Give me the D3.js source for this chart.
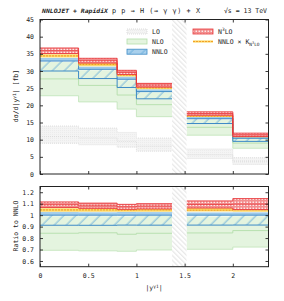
<!DOCTYPE html>
<html>
<head>
<meta charset="utf-8">
<script src="https://cdn.jsdelivr.net/npm/d3@7"></script>
<style>
  body { margin: 0; background: #fff; }
  svg text { font-family: "DejaVu Sans Mono", monospace; fill: #222; }
</style>
</head>
<body>
<svg id="chart" width="284" height="301"></svg>
<script>
// ---- data -----------------------------------------------------------------
const binLo = [0, 0.4, 0.8, 1.0, 1.52, 2.0];
const binHi = [0.4, 0.8, 1.0, 1.37, 2.0, 2.37];
const gapRange = [1.37, 1.52];

const loC  = [10.9, 10.5, 9.5, 8.1, 5.6, 3.7];
const loLo = [8.9, 8.5, 7.8, 6.6, 4.5, 2.8];
const loHi = [14.0, 13.4, 12.1, 10.5, 7.3, 4.8];

const nloC  = [27.7, 25.8, 23.0, 20.2, 13.6, 9.0];
const nloLo = [22.8, 21.0, 18.9, 16.7, 11.3, 7.5];
const nloHi = [32.6, 30.2, 27.3, 23.8, 15.9, 10.3];

const nnloC  = [32.9, 30.5, 27.6, 24.0, 16.1, 10.4];
const nnloLo = [30.0, 27.8, 25.2, 21.9, 14.7, 9.5];
const nnloHi = [33.6, 31.1, 28.2, 24.5, 16.4, 10.6];

const n3loC  = [35.9, 33.0, 29.6, 25.9, 17.6, 11.4];
const n3loLo = [35.1, 32.3, 29.0, 25.3, 17.1, 10.9];
const n3loHi = [36.7, 33.7, 30.2, 26.4, 18.1, 11.9];

const kC  = [34.4, 31.9, 28.8, 25.1, 16.8, 10.9];
const kLo = [33.9, 31.4, 28.4, 24.7, 16.6, 10.7];
const kHi = [34.9, 32.3, 29.3, 25.4, 17.1, 11.0];

const xTicks = [0, 0.5, 1, 1.5, 2];
const yTicksTop = [0, 5, 10, 15, 20, 25, 30, 35, 40, 45];
const yTicksBot = [0.6, 0.7, 0.8, 0.9, 1.0, 1.1, 1.2];

// ---- layout ----------------------------------------------------------------
const L = 40, R = 268.5;
const TOP = { y0: 174, y1: 19.5 };
const BOT = { y0: 266.7, y1: 186.5 };

const svg = d3.select('#chart');
const x = d3.scaleLinear().domain([0, 2.37]).range([L, R]);
const yTop = d3.scaleLinear().domain([0, 45]).range([TOP.y0, TOP.y1]);
const yBot = d3.scaleLinear().domain([0.55, 1.25]).range([BOT.y0, BOT.y1]);

const defs = svg.append('defs');

// crack-region hatch "\\\"
const pGap = defs.append('pattern').attr('id', 'gapHatch')
  .attr('patternUnits', 'userSpaceOnUse').attr('width', 6).attr('height', 3.4)
  .attr('patternTransform', 'rotate(45)');
pGap.append('line').attr('x1', 0).attr('x2', 6).attr('y1', 1).attr('y2', 1)
  .attr('stroke', '#d2d2d2').attr('stroke-width', 0.7);

// NNLO hatch "///"
const pNnlo = defs.append('pattern').attr('id', 'nnloHatch')
  .attr('patternUnits', 'userSpaceOnUse').attr('width', 10).attr('height', 8.5)
  .attr('patternTransform', 'rotate(-45)');
pNnlo.append('line').attr('x1', 0).attr('x2', 10).attr('y1', 2).attr('y2', 2)
  .attr('stroke', '#5aa5d8').attr('stroke-width', 0.8);

// N3LO cross-hatch
const pN3 = defs.append('pattern').attr('id', 'n3loHatch')
  .attr('patternUnits', 'userSpaceOnUse').attr('width', 3).attr('height', 3);
pN3.append('rect').attr('width', 3).attr('height', 3).attr('fill', '#f28e8e');
pN3.append('rect').attr('x', 0.6).attr('y', 0.6).attr('width', 1.3).attr('height', 1.3).attr('fill', '#fff');

// LO stipple
const pLo = defs.append('pattern').attr('id', 'loDots')
  .attr('patternUnits', 'userSpaceOnUse').attr('width', 2).attr('height', 2);
pLo.append('rect').attr('width', 2).attr('height', 2).attr('fill', '#f4f4f4');
pLo.append('rect').attr('width', 1).attr('height', 1).attr('fill', '#ececec');

// contiguous runs of bins
const segs = [];
binLo.forEach((l, i) => {
  if (i === 0 || l !== binHi[i - 1]) segs.push([]);
  segs[segs.length - 1].push(i);
});

function stepPts(seg, a, b, t) {
  const pts = [];
  seg.forEach(i => {
    const va = t(a, i), vb = t(b, i);
    pts.push({ x: binLo[i], a: va, b: vb });
    pts.push({ x: binHi[i], a: va, b: vb });
  });
  return pts;
}

function drawPanel(p, y, t, clipId) {
  defs.append('clipPath').attr('id', clipId).append('rect')
    .attr('x', L).attr('y', p.y1).attr('width', R - L).attr('height', p.y0 - p.y1);
  const g = svg.append('g').attr('clip-path', `url(#${clipId})`);

  const area = d3.area().x(d => x(d.x)).y0(d => y(d.a)).y1(d => y(d.b));
  const line = d3.line().x(d => x(d.x)).y(d => y(d.a));

  const band = (lo, hi, fill) => segs.forEach(seg =>
    g.append('path').attr('d', area(stepPts(seg, lo, hi, t))).attr('fill', fill));
  const edge = (arr, stroke, w, dash) => segs.forEach(seg =>
    g.append('path').attr('d', line(stepPts(seg, arr, arr, t)))
      .attr('fill', 'none').attr('stroke', stroke).attr('stroke-width', w)
      .attr('stroke-dasharray', dash || null));

  // LO
  band(loLo, loHi, 'url(#loDots)');
  edge(loLo, '#dadada', 0.7, '1,1');
  edge(loHi, '#dadada', 0.7, '1,1');
  edge(loC, '#d6d6d6', 0.7, '1,1');

  // NLO
  band(nloLo, nloHi, '#e4f4df');
  edge(nloLo, '#bfe3b7', 0.8);
  edge(nloC, '#b3deaa', 0.9);

  // NNLO
  band(nnloC, nnloHi, '#a9d0ec');
  band(nnloLo, nnloC, 'url(#nnloHatch)');
  edge(nnloHi, '#8cc0e4', 0.9);
  edge(nnloLo, '#3d8ac6', 1);
  edge(nnloC, '#3d8ac6', 1);

  // NNLO x K
  band(kLo, kHi, '#fbd96a');
  edge(kC, '#f29a1e', 1, '2,1');

  // N3LO
  band(n3loLo, n3loHi, 'url(#n3loHatch)');
  edge(n3loHi, '#e8373a', 0.9);
  edge(n3loLo, '#e8373a', 0.9);
  edge(n3loC, '#e8373a', 0.8);

  // detector crack region
  g.append('rect').attr('x', x(gapRange[0])).attr('width', x(gapRange[1]) - x(gapRange[0]))
    .attr('y', p.y1).attr('height', p.y0 - p.y1).attr('fill', '#fff');
  g.append('rect').attr('x', x(gapRange[0])).attr('width', x(gapRange[1]) - x(gapRange[0]))
    .attr('y', p.y1).attr('height', p.y0 - p.y1).attr('fill', 'url(#gapHatch)');
}

drawPanel(TOP, yTop, (arr, i) => arr[i], 'clipTop');
drawPanel(BOT, yBot, (arr, i) => arr[i] / nnloC[i], 'clipBot');

// ---- axes ------------------------------------------------------------------
function styleAxis(sel) {
  sel.select('.domain').remove();
  sel.selectAll('line').attr('stroke', '#222').attr('stroke-width', 0.9);
  sel.selectAll('text').style('font-size', '6.5px').attr('fill', '#222');
}
const fmt = d => d3.format('~g')(d);

// top panel
svg.append('g').attr('transform', `translate(${L},0)`)
  .call(d3.axisLeft(yTop).tickValues(yTicksTop).tickSize(-3).tickPadding(6).tickFormat(fmt))
  .call(styleAxis);
svg.append('g').attr('transform', `translate(${R},0)`)
  .call(d3.axisRight(yTop).tickValues(yTicksTop).tickSize(-3).tickFormat(''))
  .call(styleAxis);
svg.append('g').attr('transform', `translate(0,${TOP.y0})`)
  .call(d3.axisBottom(x).tickValues(xTicks).tickSize(-3).tickFormat(''))
  .call(styleAxis);
svg.append('g').attr('transform', `translate(0,${TOP.y1})`)
  .call(d3.axisTop(x).tickValues(xTicks).tickSize(-3).tickFormat(''))
  .call(styleAxis);

// ratio panel
svg.append('g').attr('transform', `translate(${L},0)`)
  .call(d3.axisLeft(yBot).tickValues(yTicksBot).tickSize(-3).tickPadding(6).tickFormat(fmt))
  .call(styleAxis);
svg.append('g').attr('transform', `translate(${R},0)`)
  .call(d3.axisRight(yBot).tickValues(yTicksBot).tickSize(-3).tickFormat(''))
  .call(styleAxis);
svg.append('g').attr('transform', `translate(0,${BOT.y0})`)
  .call(d3.axisBottom(x).tickValues(xTicks).tickSize(-3).tickPadding(7).tickFormat(fmt))
  .call(styleAxis);
svg.append('g').attr('transform', `translate(0,${BOT.y1})`)
  .call(d3.axisTop(x).tickValues(xTicks).tickSize(-3).tickFormat(''))
  .call(styleAxis);

// frames
[TOP, BOT].forEach(p => svg.append('rect')
  .attr('x', L).attr('y', p.y1).attr('width', R - L).attr('height', p.y0 - p.y1)
  .attr('fill', 'none').attr('stroke', '#222').attr('stroke-width', 1));

// ---- texts -----------------------------------------------------------------
svg.append('text').attr('x', 42).attr('y', 12.5)
  .style('font-size', '6px').style('font-weight', 'bold').style('font-style', 'italic')
  .attr('textLength', 66).attr('lengthAdjust', 'spacingAndGlyphs')
  .text('NNLOJET + RapidiX');
svg.append('text').attr('x', 112).attr('y', 12.5).style('font-size', '6.8px')
  .attr('textLength', 88).attr('lengthAdjust', 'spacing')
  .text('p p → H (→ γ γ) + X');
svg.append('text').attr('x', 267).attr('y', 12.5).attr('text-anchor', 'end')
  .style('font-size', '6.5px').text('√s = 13 TeV');

const yl = svg.append('text').attr('transform', 'translate(18,96) rotate(-90)')
  .attr('text-anchor', 'middle').style('font-size', '6.5px');
yl.append('tspan').text('dσ/d|y');
yl.append('tspan').attr('dy', -2.5).style('font-size', '4.5px').text('γ1');
yl.append('tspan').attr('dy', 2.5).text('| [fb]');

svg.append('text').attr('transform', 'translate(18,226) rotate(-90)')
  .attr('text-anchor', 'middle').style('font-size', '6.5px').text('Ratio to NNLO');

const xl = svg.append('text').attr('x', 154).attr('y', 290)
  .attr('text-anchor', 'middle').style('font-size', '6.5px');
xl.append('tspan').text('|y');
xl.append('tspan').attr('dy', -2.5).style('font-size', '4.5px').text('γ1');
xl.append('tspan').attr('dy', 2.5).text('|');

// ---- legend ----------------------------------------------------------------
const lg = svg.append('g');
const sw = (sx, sy, fill, stroke, dash) => lg.append('rect')
  .attr('x', sx).attr('y', sy - 2.5).attr('width', 20).attr('height', 5)
  .attr('fill', fill).attr('stroke', stroke).attr('stroke-width', 0.8)
  .attr('stroke-dasharray', dash || null);
const lt = (tx, ty) => lg.append('text').attr('x', tx).attr('y', ty + 2.3).style('font-size', '6.5px');

sw(127, 31.5, 'url(#loDots)', '#d4d4d4', '1,1');
lt(152, 31.5).text('LO');
sw(127, 41.5, '#e4f4df', '#b3deaa');
lt(152, 41.5).text('NLO');
sw(127, 51.7, '#a9d0ec', '#3d8ac6');
lg.append('rect').attr('x', 127).attr('y', 49.2).attr('width', 20).attr('height', 5)
  .attr('fill', 'url(#nnloHatch)');
lt(152, 51.7).text('NNLO');

sw(193, 31.5, 'url(#n3loHatch)', '#e8373a');
const t3 = lt(218, 31.5);
t3.append('tspan').text('N');
t3.append('tspan').attr('dy', -2.5).style('font-size', '4.5px').text('3');
t3.append('tspan').attr('dy', 2.5).text('LO');

lg.append('line').attr('x1', 193).attr('x2', 213).attr('y1', 41.5).attr('y2', 41.5)
  .attr('stroke', '#fbd96a').attr('stroke-width', 2.2);
lg.append('line').attr('x1', 193).attr('x2', 213).attr('y1', 41.5).attr('y2', 41.5)
  .attr('stroke', '#f29a1e').attr('stroke-width', 0.9).attr('stroke-dasharray', '2,1');
const tk = lt(218, 41.5);
tk.append('tspan').text('NNLO × K');
tk.append('tspan').attr('dy', 2).style('font-size', '4.5px').text('N');
tk.append('tspan').attr('dy', -1.5).style('font-size', '3.5px').text('3');
tk.append('tspan').attr('dy', 1.5).style('font-size', '4.5px').text('LO');
</script>
</body>
</html>
